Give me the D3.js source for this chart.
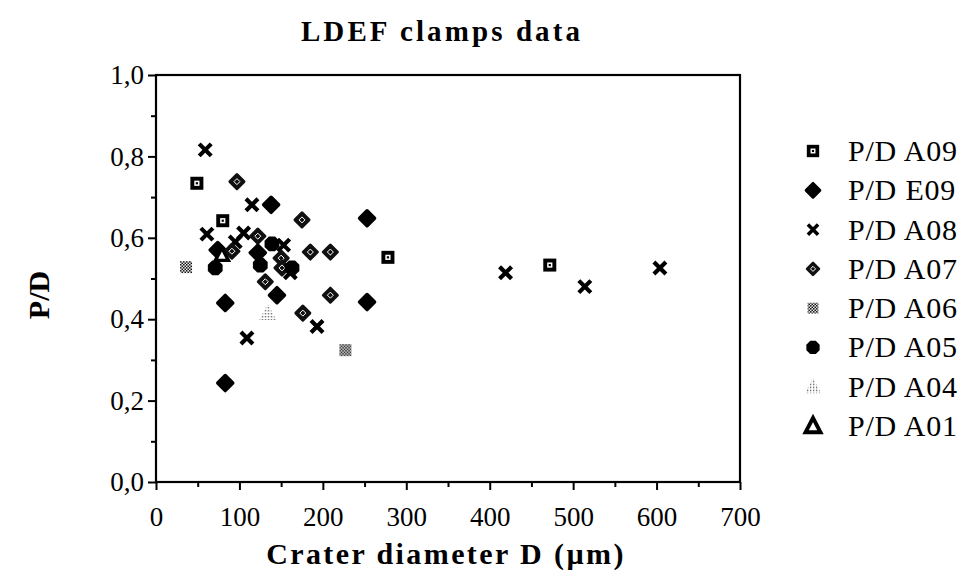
<!DOCTYPE html>
<html><head><meta charset="utf-8">
<script src="https://cdn.jsdelivr.net/npm/d3@7"></script>
<style>body{margin:0;background:#fff}svg{display:block}</style>
</head><body>
<svg id="c" width="963" height="577"></svg>
<script>
const seriesNames = ["P/D A09","P/D E09","P/D A08","P/D A07","P/D A06","P/D A05","P/D A04","P/D A01"];
const A09 = [[49,0.734],[80,0.642],[278,0.552],[472,0.533]];
const E09 = [[138,0.681],[253,0.648],[253,0.442],[83,0.440],[83,0.243],[145,0.459],[74,0.570],[122,0.563]];
const A08 = [[59,0.816],[115,0.681],[61,0.609],[105,0.612],[95,0.590],[161,0.514],[109,0.354],[193,0.382],[419,0.514],[514,0.480],[604,0.526],[153,0.582]];
const A07 = [[97,0.738],[175,0.644],[122,0.604],[185,0.565],[209,0.565],[131,0.492],[209,0.459],[176,0.415],[91,0.567],[150,0.550],[151,0.526]];
const A06 = [[36,0.528],[227,0.324]];
const A05 = [[71,0.526],[125,0.533],[163,0.526],[139,0.585]];
const A04 = [[134,0.415]];
const A01 = [[79,0.558]];
const xTicks = [0,100,200,300,400,500,600,700];
const yTicks = [0,0.2,0.4,0.6,0.8,1.0];
const yTickLabels = ["0,0","0,2","0,4","0,6","0,8","1,0"];

const data = [A09,E09,A08,A07,A06,A05,A04,A01];
const svg = d3.select("#c");
const defs = svg.append("defs");
const ptn6 = defs.append("pattern").attr("id","chk").attr("width",3).attr("height",3).attr("patternUnits","userSpaceOnUse");
ptn6.append("rect").attr("width",3).attr("height",3).attr("fill","#fff");
ptn6.append("rect").attr("width",1.5).attr("height",1.5).attr("fill","#000");
ptn6.append("rect").attr("x",1.5).attr("y",1.5).attr("width",1.5).attr("height",1.5).attr("fill","#000");
const ptn4 = defs.append("pattern").attr("id","dots").attr("width",3).attr("height",3).attr("patternUnits","userSpaceOnUse");
ptn4.append("rect").attr("width",3).attr("height",3).attr("fill","#fff");
ptn4.append("rect").attr("width",1.3).attr("height",1.3).attr("fill","#555");

const x = d3.scaleLinear().domain([0,700]).range([156,740]);
const y = d3.scaleLinear().domain([0,1]).range([482,75]);

const FONT = "'Liberation Serif','Times New Roman',serif";

// frame
svg.append("rect").attr("x",x(0)).attr("y",y(1)).attr("width",x(700)-x(0)).attr("height",y(0)-y(1))
  .attr("fill","none").attr("stroke","#000").attr("stroke-width",2.2);

// axes
const yAxis = d3.axisLeft(y).tickValues(yTicks).tickFormat((d,i)=>yTickLabels[i]).tickSize(8).tickPadding(4);
const gy = svg.append("g").attr("transform",`translate(${x(0)},0)`).call(yAxis);
gy.select(".domain").remove();
gy.selectAll("line").attr("stroke","#000").attr("stroke-width",2);
gy.selectAll("text").attr("font-family",FONT).attr("font-size",27).attr("fill","#000");
const gym = svg.append("g").attr("transform",`translate(${x(0)},0)`).call(d3.axisLeft(y).tickValues([0.1,0.3,0.5,0.7,0.9]).tickSize(5).tickFormat(""));
gym.select(".domain").remove();
gym.selectAll("line").attr("stroke","#000").attr("stroke-width",2);

const xAxis = d3.axisBottom(x).tickValues(xTicks).tickFormat(d3.format("d")).tickSize(8).tickPadding(17);
const gx = svg.append("g").attr("transform",`translate(0,${y(0)})`).call(xAxis);
gx.select(".domain").remove();
gx.selectAll("line").attr("stroke","#000").attr("stroke-width",2);
gx.selectAll("text").attr("font-family",FONT).attr("font-size",27).attr("fill","#000");
const gxm = svg.append("g").attr("transform",`translate(0,${y(0)})`).call(d3.axisBottom(x).tickValues([50,150,250,350,450,550,650]).tickSize(5).tickFormat(""));
gxm.select(".domain").remove();
gxm.selectAll("line").attr("stroke","#000").attr("stroke-width",2);

// titles
svg.append("text").attr("x",442).attr("y",41).attr("text-anchor","middle").attr("font-family",FONT)
  .attr("font-weight","bold").attr("font-size",29).attr("letter-spacing",3.1).text("LDEF clamps data");
svg.append("text").attr("x",446).attr("y",564).attr("text-anchor","middle").attr("font-family",FONT)
  .attr("font-weight","bold").attr("font-size",30).attr("letter-spacing",2.4).text("Crater diameter D (\u00b5m)");
svg.append("text").attr("transform","translate(49,295) rotate(-90)").attr("text-anchor","middle").attr("font-family",FONT)
  .attr("font-weight","bold").attr("font-size",30).text("P/D");

// marker drawing
function marker(g, k, s){
  if(k===0){ // square with dot
    g.append("rect").attr("x",-6.5*s).attr("y",-6.5*s).attr("width",13*s).attr("height",13*s).attr("fill","#000");
    g.append("rect").attr("x",-2.6*s).attr("y",-2.6*s).attr("width",5.2*s).attr("height",5.2*s).attr("fill","#fff");
    g.append("rect").attr("x",-1.1*s).attr("y",-1.1*s).attr("width",2.2*s).attr("height",2.2*s).attr("fill","#000");
  } else if(k===1){ // filled rounded diamond
    g.append("path").attr("d",`M0,${-7.5*s}L${7.5*s},0L0,${7.5*s}L${-7.5*s},0Z`).attr("fill","#000")
      .attr("stroke","#000").attr("stroke-width",3.5*s).attr("stroke-linejoin","round");
  } else if(k===2){ // X
    const r=6*s;
    g.append("path").attr("d",`M${-r},${-r}L${r},${r}M${-r},${r}L${r},${-r}`).attr("stroke","#000").attr("stroke-width",4.2*s).attr("fill","none");
  } else if(k===3){ // speckled diamond
    g.append("path").attr("d",`M0,${-7*s}L${7*s},0L0,${7*s}L${-7*s},0Z`).attr("fill","#111")
      .attr("stroke","#111").attr("stroke-width",3*s).attr("stroke-linejoin","round");
    g.append("path").attr("d",`M0,${-3*s}L${3*s},0L0,${3*s}L${-3*s},0Z`).attr("fill","none").attr("stroke","#fff").attr("stroke-width",1);
  } else if(k===4){ // checker square
    g.append("rect").attr("x",-6*s).attr("y",-6*s).attr("width",12*s).attr("height",12*s).attr("fill","url(#chk)");
  } else if(k===5){ // filled octagon
    g.append("path").attr("d",d3.line()(d3.range(8).map(i=>{const a=Math.PI/8+i*Math.PI/4;return [8*s*Math.cos(a),8*s*Math.sin(a)];}))+"Z").attr("fill","#000");
  } else if(k===6){ // dotted triangle
    g.append("path").attr("d",`M0,${-9*s}L${8.5*s},${7*s}L${-8.5*s},${7*s}Z`).attr("fill","url(#dots)");
  } else if(k===7){ // outline triangle
    g.append("path").attr("d",`M0,${-7*s}L${6.5*s},${5.5*s}L${-6.5*s},${5.5*s}Z`).attr("fill","#fff").attr("stroke","#000").attr("stroke-width",3.4*s).attr("stroke-linejoin","miter");
  }
}

data.forEach((arr,k)=>{
  const g = svg.append("g").attr("class","s"+k);
  g.selectAll("g").data(arr).join("g").attr("transform",d=>`translate(${x(d[0])},${y(d[1])})`).each(function(){ marker(d3.select(this),k,1); });
});

// legend
const legY = d3.scalePoint().domain(seriesNames).range([151,426]);
const legScale = [0.95,0.9,0.85,0.85,0.9,0.9,0.95,1.15];
seriesNames.forEach((n,k)=>{
  const g = svg.append("g").attr("transform",`translate(813,${legY(n)})`);
  marker(g,k,legScale[k]);
  svg.append("text").attr("x",848).attr("y",legY(n)+10).attr("font-family",FONT).attr("font-size",30).attr("letter-spacing",0.8).attr("fill","#000").text(n);
});
</script>
</body></html>
